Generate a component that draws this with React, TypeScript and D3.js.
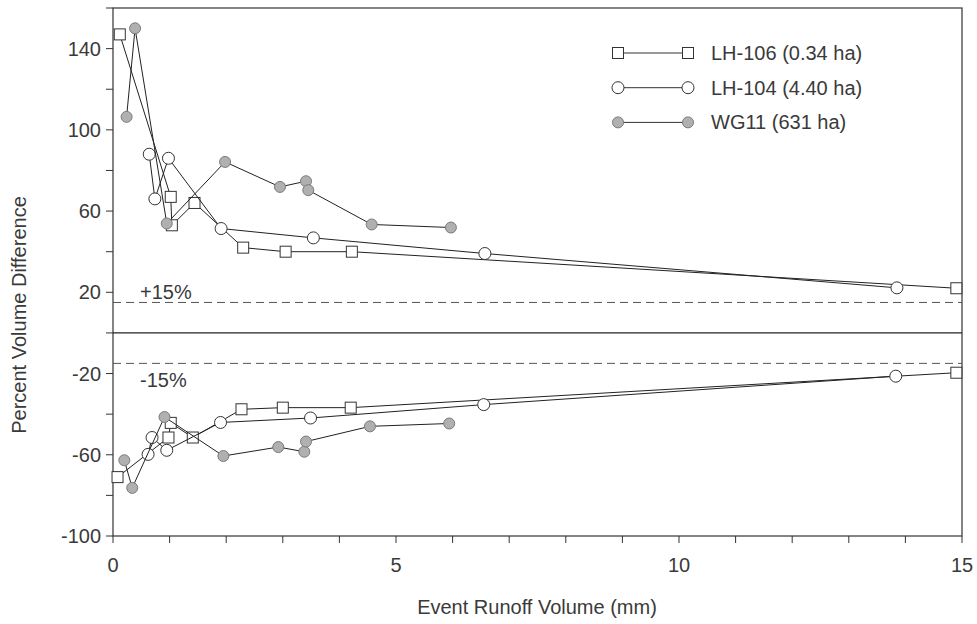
import React, { useEffect } from 'react';
import * as d3 from 'd3';

// LH-106 (0.34 ha) - squares
const lh106UpperX = [0.12, 1.02, 1.04, 1.44, 2.3, 3.05, 4.22, 14.9];
const lh106UpperY = [147, 67, 53, 64, 42, 40, 40, 22];
const lh106LowerX = [0.08, 0.98, 1.02, 1.41, 2.27, 3.0, 4.2, 14.9];
const lh106LowerY = [-71, -51.5, -44.3, -51.5, -37.6, -36.8, -36.8, -19.6];

// LH-104 (4.40 ha) - open circles
const lh104UpperX = [0.64, 0.74, 0.98, 1.91, 3.54, 6.57, 13.85];
const lh104UpperY = [88, 66, 86, 51.4, 46.8, 39.1, 22.2];
const lh104LowerX = [0.62, 0.69, 0.95, 1.9, 3.49, 6.55, 13.83];
const lh104LowerY = [-59.8, -51.5, -57.8, -44.1, -41.9, -35.3, -21.3];

// WG11 (631 ha) - grey dots
const wg11UpperX = [0.24, 0.39, 0.95, 1.98, 2.95, 3.41, 3.45, 4.57, 5.97];
const wg11UpperY = [106.4, 150, 53.9, 84.2, 71.9, 74.7, 70.3, 53.4, 51.9];
const wg11LowerX = [0.2, 0.34, 0.91, 1.95, 2.92, 3.38, 3.41, 4.54, 5.94];
const wg11LowerY = [-62.7, -76.3, -41.4, -60.6, -56.2, -58.5, -53.5, -46, -44.6];

const yTickLabels = [140, 100, 60, 20, -20, -60, -100];
const yMinorTicks = [160, 120, 80, 40, 0, -40, -80];
const xTickLabels = [0, 5, 10, 15];
const bandLimits = [15, -15];
const legendNames = ['LH-106 (0.34 ha)', 'LH-104 (4.40 ha)', 'WG11 (631 ha)'];

const W = 977;
const H = 624;
const left = 113, right = 962, top = 8, bottom = 536;
const font = 'Arial, "Liberation Sans", Helvetica, sans-serif';
const ink = '#3a3a3a';

const zip = (xs: number[], ys: number[]) => xs.map((x, i) => [x, ys[i]] as [number, number]);

const Marker = ({ kind, x, y }: { kind: string; x: number; y: number }) => {
  if (kind === 'square') {
    return <rect x={x - 5.5} y={y - 5.5} width={11} height={11} fill="#fff" stroke="#333" strokeWidth={1} />;
  }
  if (kind === 'circle') {
    return <circle cx={x} cy={y} r={6} fill="#fff" stroke="#333" strokeWidth={1} />;
  }
  return <circle cx={x} cy={y} r={5.5} fill="#b0b0b0" stroke="#7a7a7a" strokeWidth={1} />;
};

export default function App() {
  useEffect(() => {
    document.body.style.margin = '0';
  }, []);

  const x = d3.scaleLinear().domain([0, 15]).range([left, right]);
  const y = d3.scaleLinear().domain([-100, 160]).range([bottom, top]);
  const line = d3.line<[number, number]>().x(d => x(d[0])).y(d => y(d[1]));

  const series = [
    { kind: 'square', pts: [zip(lh106UpperX, lh106UpperY), zip(lh106LowerX, lh106LowerY)] },
    { kind: 'circle', pts: [zip(lh104UpperX, lh104UpperY), zip(lh104LowerX, lh104LowerY)] },
    { kind: 'dot', pts: [zip(wg11UpperX, wg11UpperY), zip(wg11LowerX, wg11LowerY)] },
  ];

  const xMinor = d3.range(0, 16);

  return (
    <svg width={W} height={H} style={{ display: 'block', background: '#fff' }} fontFamily={font}>
      {/* frame */}
      <rect x={left} y={top} width={right - left} height={bottom - top} fill="none" stroke="#333" strokeWidth={1.2} />

      {/* zero line and +/-15% band */}
      <line x1={left} x2={right} y1={y(0)} y2={y(0)} stroke="#222" strokeWidth={1.2} />
      {bandLimits.map(b => (
        <line key={b} x1={left} x2={right} y1={y(b)} y2={y(b)} stroke="#555" strokeWidth={1} strokeDasharray="8,5" />
      ))}
      <text x={140} y={299} fontSize={20} fill={ink}>+15%</text>
      <text x={140} y={387} fontSize={20} fill={ink}>-15%</text>

      {/* y axis ticks */}
      {yTickLabels.concat(yMinorTicks).map(v => (
        <line key={'yt' + v} x1={left - 7} x2={left} y1={y(v)} y2={y(v)} stroke="#333" strokeWidth={1} />
      ))}
      {yTickLabels.map(v => (
        <text key={'yl' + v} x={101} y={y(v)} dy="0.35em" textAnchor="end" fontSize={20} fill={ink}>{v}</text>
      ))}

      {/* x axis ticks */}
      {xMinor.map(v => (
        <line key={'xt' + v} x1={x(v)} x2={x(v)} y1={bottom} y2={bottom + 7} stroke="#333" strokeWidth={1} />
      ))}
      {xTickLabels.map(v => (
        <text key={'xl' + v} x={x(v)} y={565} dy="0.35em" textAnchor="middle" fontSize={20} fill={ink}>{v}</text>
      ))}

      {/* axis titles */}
      <text x={537} y={607} dy="0.35em" textAnchor="middle" fontSize={20} fill={ink}>Event Runoff Volume (mm)</text>
      <text transform={`translate(19,${(top + bottom) / 2 + 43}) rotate(-90)`} dy="0.35em" textAnchor="middle" fontSize={20} fill={ink}>
        Percent Volume Difference
      </text>

      {/* data */}
      {series.map((s, si) => (
        <g key={si}>
          {s.pts.map((p, pi) => (
            <path key={pi} d={line(p) || ''} fill="none" stroke="#222" strokeWidth={1} />
          ))}
          {s.pts.map((p, pi) =>
            p.map((d, di) => <Marker key={pi + '-' + di} kind={s.kind} x={x(d[0])} y={y(d[1])} />)
          )}
        </g>
      ))}

      {/* legend */}
      {legendNames.map((name, i) => {
        const ly = 53 + i * 34.7;
        const kind = series[i].kind;
        return (
          <g key={name}>
            <line x1={618} x2={688} y1={ly} y2={ly} stroke="#333" strokeWidth={1} />
            <Marker kind={kind} x={618} y={ly} />
            <Marker kind={kind} x={688} y={ly} />
            <text x={711} y={ly} dy="0.35em" fontSize={20} fill={ink}>{name}</text>
          </g>
        );
      })}
    </svg>
  );
}
